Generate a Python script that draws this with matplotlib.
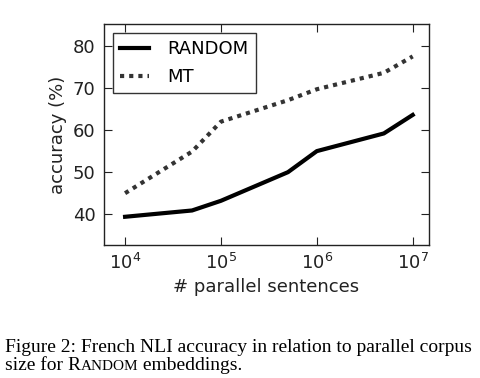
import matplotlib
matplotlib.use('Agg')
import matplotlib.pyplot as plt

# data
sentences = [1e4, 5e4, 1e5, 5e5, 1e6, 5e6, 1e7]
random_acc = [39.4, 40.9, 43.2, 50.0, 55.0, 59.2, 63.6]
mt_acc = [45.0, 54.9, 62.0, 67.1, 69.7, 73.6, 77.5]
yticks = [40, 50, 60, 70, 80]

fig = plt.figure(figsize=(4.81, 3.78), dpi=100)
ax = fig.add_axes([0.2162, 0.3519, 0.6757, 0.5846])

ax.plot(sentences, random_acc, '-k', lw=3, label='RANDOM')
ax.plot(sentences, mt_acc, color='#333333', lw=3, dashes=(1, 1.2), label='MT')

ax.set_xscale('log')
ax.set_xlim(10**3.78, 10**7.17)
ax.set_ylim(32.7, 85.2)
ax.set_yticks(yticks)
ax.minorticks_off()
ax.tick_params(direction='in', top=True, right=True, length=6, width=0.8,
               labelsize=13, colors='#222222', pad=6)
for s in ax.spines.values():
    s.set_linewidth(1.0)
    s.set_color('#222222')

ax.set_xlabel('# parallel sentences', fontsize=13, color='#222222', labelpad=3)
ax.set_ylabel('accuracy (%)', fontsize=13, color='#222222', labelpad=4)

leg = ax.legend(loc='upper left', fontsize=13, handlelength=1.6, handletextpad=1.0,
                fancybox=False, borderaxespad=0.5, borderpad=0.4, labelspacing=0.55)
leg.get_frame().set_edgecolor('black')
leg.get_frame().set_linewidth(1.0)

# caption, with RANDOM in small caps
cap = dict(family='Liberation Serif', color='black')
fig.text(0.010, 1 - 352 / 378, 'Figure 2: French NLI accuracy in relation to parallel corpus',
         fontsize=14, va='baseline', **cap)

fig.canvas.draw()
r = fig.canvas.get_renderer()
y2 = 1 - 370 / 378
x = 0.010
for piece, size in [('size for ', 14), ('R', 14), ('ANDOM', 11), (' embeddings.', 14)]:
    t = fig.text(x, y2, piece, fontsize=size, va='baseline', **cap)
    x = t.get_window_extent(r).x1 / fig.bbox.width

fig.savefig('out.png', dpi=100)
